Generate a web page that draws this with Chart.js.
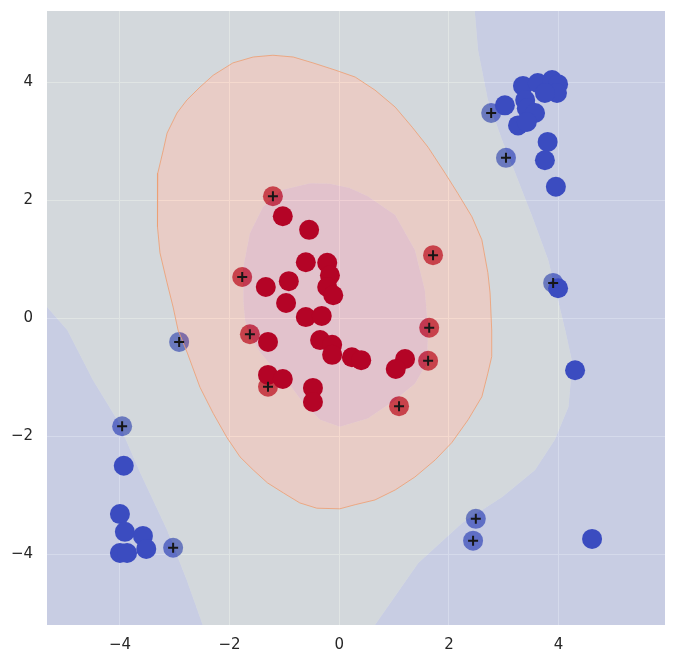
<!DOCTYPE html>
<html>
<head>
<meta charset="utf-8">
<script src="https://cdn.jsdelivr.net/npm/chart.js@4.4.1/dist/chart.umd.min.js"></script>
<style>
  html, body { margin: 0; padding: 0; background: #fff; }
  #wrap { width: 675px; height: 664px; }
</style>
</head>
<body>
<div id="wrap"><canvas id="c" width="675" height="664"></canvas></div>
<script>
// ── Axes ──────────────────────────────────────────────────────────────────
const X_MIN = -5.33, X_MAX = 5.94;
const Y_MIN = -5.20, Y_MAX = 5.21;
const TICKS = [-4, -2, 0, 2, 4];

// ── Training points ───────────────────────────────────────────────────────
const RED_PTS = [
  [-1.03, 1.73], [-0.55, 1.50], [-0.61, 0.95], [-0.22, 0.94], [-0.17, 0.73],
  [-1.34, 0.53], [-0.92, 0.63], [-0.97, 0.26], [-0.61, 0.02], [-0.32, 0.04],
  [-0.22, 0.53], [-0.11, 0.39], [-0.35, -0.37], [-0.13, -0.45], [-0.13, -0.62],
  [0.23, -0.66], [0.40, -0.71], [-0.48, -1.18], [-0.48, -1.42], [-1.30, -0.40],
  [-1.30, -0.96], [-1.03, -1.03], [1.20, -0.69], [1.03, -0.86],
];
const BLUE_PTS = [
  [3.35, 3.94], [3.62, 3.99], [3.88, 4.04], [3.99, 3.97], [3.97, 3.82],
  [3.75, 3.82], [3.39, 3.70], [3.02, 3.61], [3.42, 3.56], [3.57, 3.48],
  [3.26, 3.27], [3.42, 3.33], [3.80, 2.99], [3.75, 2.68], [3.95, 2.23],
  [3.99, 0.51], [4.30, -0.88], [4.61, -3.74],
  [-3.93, -2.50], [-4.00, -3.32], [-3.91, -3.62], [-3.58, -3.69],
  [-3.52, -3.91], [-4.00, -3.98], [-3.87, -3.98],
];

// support vectors
const RED_SV = [
  [-1.21, 2.07], [-1.77, 0.70], [-1.63, -0.27], [-1.30, -1.16],
  [1.71, 1.07], [1.64, -0.16], [1.62, -0.72], [1.09, -1.49],
];
const BLUE_SV = [
  [2.77, 3.48], [3.04, 2.72], [3.90, 0.60], [-3.96, -1.83],
  [-3.03, -3.89], [-2.92, -0.40], [2.49, -3.40], [2.44, -3.77],
];

// ── Decision function contours ────────────────────────────────────────────
// f = 0, counter-clockwise from the top
const F_ZERO = [
  [-1.21, 4.46], [-1.57, 4.43], [-1.94, 4.33], [-2.30, 4.12], [-2.54, 3.92],
  [-2.78, 3.70], [-2.96, 3.48], [-3.14, 3.14], [-3.21, 2.85], [-3.31, 2.46],
  [-3.32, 2.01], [-3.31, 1.55], [-3.27, 1.11], [-3.14, 0.60], [-3.03, 0.19],
  [-2.94, -0.20], [-2.77, -0.59], [-2.54, -1.17], [-2.30, -1.61], [-2.05, -2.02],
  [-1.81, -2.35], [-1.57, -2.57], [-1.31, -2.79], [-1.02, -2.96], [-0.72, -3.13],
  [-0.41, -3.22], [0.01, -3.23], [0.29, -3.16], [0.65, -3.08], [1.02, -2.91],
  [1.38, -2.69], [1.75, -2.40], [2.05, -2.11], [2.35, -1.72], [2.60, -1.33],
  [2.71, -0.93], [2.78, -0.65], [2.78, -0.20], [2.75, 0.43], [2.71, 0.77],
  [2.60, 1.33], [2.42, 1.72], [2.16, 2.12], [1.93, 2.46], [1.62, 2.90],
  [1.33, 3.24], [1.02, 3.58], [0.65, 3.87], [0.29, 4.09], [-0.08, 4.21],
  [-0.48, 4.33], [-0.84, 4.43],
];
// f = +1, clockwise from the top
const F_POS = [
  [-0.53, 2.29], [-0.17, 2.28], [0.19, 2.21], [0.52, 2.07], [1.02, 1.75],
  [1.38, 1.16], [1.56, 0.48], [1.62, -0.20], [1.60, -0.76], [1.38, -1.11],
  [1.00, -1.40], [0.52, -1.70], [0.01, -1.84], [-0.35, -1.72], [-0.63, -1.47],
  [-0.90, -1.13], [-1.21, -0.84], [-1.45, -0.57], [-1.63, -0.28], [-1.72, -0.03],
  [-1.75, 0.31], [-1.75, 0.87], [-1.63, 1.44], [-1.39, 1.89], [-1.03, 2.18],
];
// f = -1, right branch (top edge -> bottom edge) and left branch (left edge -> bottom edge)
const F_NEG_RIGHT = [
  [2.47, 5.21], [2.53, 4.55], [2.71, 3.70], [2.97, 3.02], [3.21, 2.46],
  [3.52, 1.72], [3.81, 0.99], [4.12, -0.20], [4.25, -0.76], [4.18, -1.50],
  [3.93, -2.06], [3.57, -2.57], [2.97, -3.03], [2.24, -3.47], [1.44, -4.15],
  [0.65, -5.20],
];
const F_NEG_LEFT = [
  [-5.33, 0.19], [-4.96, -0.20], [-4.49, -1.05], [-4.05, -1.72], [-3.63, -2.62],
  [-3.14, -3.59], [-2.78, -4.44], [-2.49, -5.20],
];

// ── Colours ───────────────────────────────────────────────────────────────
const RED = '#b40426';
const BLUE = '#3b4cc0';
const ALPHA = 0.4;
const BAND_BLUE = `rgba(149,162,205,${ALPHA})`;
const BAND_GREY = `rgba(177,189,187,${ALPHA})`;
const BAND_SALMON = `rgba(229,159,132,${ALPHA})`;
const BAND_PINK = `rgba(214,134,147,${ALPHA})`;

// ── Bands (non-overlapping, holes made with a bridge) ─────────────────────
const xy = ([x, y]) => ({ x, y });
const closed = pts => [...pts, pts[0]];

const corner = [X_MIN, Y_MAX];
const blueRight = [...F_NEG_RIGHT, [X_MAX, Y_MIN], [X_MAX, Y_MAX]];
const blueLeft = [...F_NEG_LEFT, [X_MIN, Y_MIN]];
const greyOuter = [corner, ...F_NEG_RIGHT, ...[...F_NEG_LEFT].reverse()];
const greyRing = [...greyOuter, corner, ...closed(F_ZERO), corner];
const salmonRing = [...closed(F_ZERO), ...closed(F_POS), F_ZERO[0]];

function band(points, color) {
  return {
    type: 'line',
    data: points.map(xy),
    backgroundColor: color,
    borderWidth: 0,
    pointRadius: 0,
    fill: 'shape',
    tension: 0,
    order: 3,
  };
}

function dots(points, color, radius, order) {
  return {
    type: 'scatter',
    data: points.map(xy),
    backgroundColor: color,
    borderWidth: 0,
    pointRadius: radius,
    order,
  };
}

// Fond de la zone de tracé (style seaborn)
const plotBg = {
  id: 'plotBg',
  beforeDraw(chart) {
    const { ctx, chartArea: a } = chart;
    ctx.save();
    ctx.fillStyle = '#eaeaf2';
    ctx.fillRect(a.left, a.top, a.right - a.left, a.bottom - a.top);
    ctx.restore();
  },
};

const tickFont = { family: 'DejaVu Sans', size: 15 };
const fmt = v => (v < 0 ? '\u2212' + Math.abs(v) : String(v));

// taille fixe des axes, sans marge ajoutée pour les labels
function fixAxis(size) {
  return axis => {
    if (axis.isHorizontal()) axis.height = size; else axis.width = size;
    axis.paddingTop = axis.paddingBottom = axis.paddingLeft = axis.paddingRight = 0;
  };
}

new Chart(document.getElementById('c'), {
  type: 'scatter',
  plugins: [plotBg],
  data: {
    datasets: [
      // black "+" on support vectors
      {
        type: 'scatter',
        data: [...RED_SV, ...BLUE_SV].map(xy),
        pointStyle: 'cross',
        pointRadius: 5,
        borderColor: '#161616',
        borderWidth: 2,
        backgroundColor: 'transparent',
        order: 0,
      },
      dots(RED_PTS, RED, 10, 1),
      dots(BLUE_PTS, BLUE, 10, 1),
      // f = 0 edge
      {
        type: 'line',
        data: closed(F_ZERO).map(xy),
        borderColor: 'rgba(236,160,118,0.85)',
        borderWidth: 1,
        pointRadius: 0,
        fill: false,
        tension: 0,
        order: 2,
      },
      band(F_POS, BAND_PINK),
      band(salmonRing, BAND_SALMON),
      band(greyRing, BAND_GREY),
      band(blueRight, BAND_BLUE),
      band(blueLeft, BAND_BLUE),
      // support vectors sit under the bands
      dots(RED_SV, RED, 10, 4),
      dots(BLUE_SV, BLUE, 10, 4),
    ],
  },
  options: {
    responsive: false,
    animation: false,
    events: [],
    layout: { autoPadding: false, padding: { left: 0, top: 11, right: 10, bottom: 0 } },
    plugins: {
      legend: { display: false },
      tooltip: { enabled: false },
    },
    scales: {
      x: {
        type: 'linear',
        min: X_MIN,
        max: X_MAX,
        afterBuildTicks: axis => { axis.ticks = TICKS.map(value => ({ value })); },
        afterFit: fixAxis(39),
        grid: { color: '#ffffff', lineWidth: 1, drawTicks: false },
        border: { display: false },
        ticks: { font: tickFont, color: '#262626', padding: 11, maxRotation: 0, callback: fmt },
      },
      y: {
        type: 'linear',
        min: Y_MIN,
        max: Y_MAX,
        afterBuildTicks: axis => { axis.ticks = TICKS.map(value => ({ value })); },
        afterFit: fixAxis(47),
        grid: { color: '#ffffff', lineWidth: 1, drawTicks: false },
        border: { display: false },
        ticks: { font: tickFont, color: '#262626', padding: 14, callback: fmt },
      },
    },
  },
});
</script>
</body>
</html>
